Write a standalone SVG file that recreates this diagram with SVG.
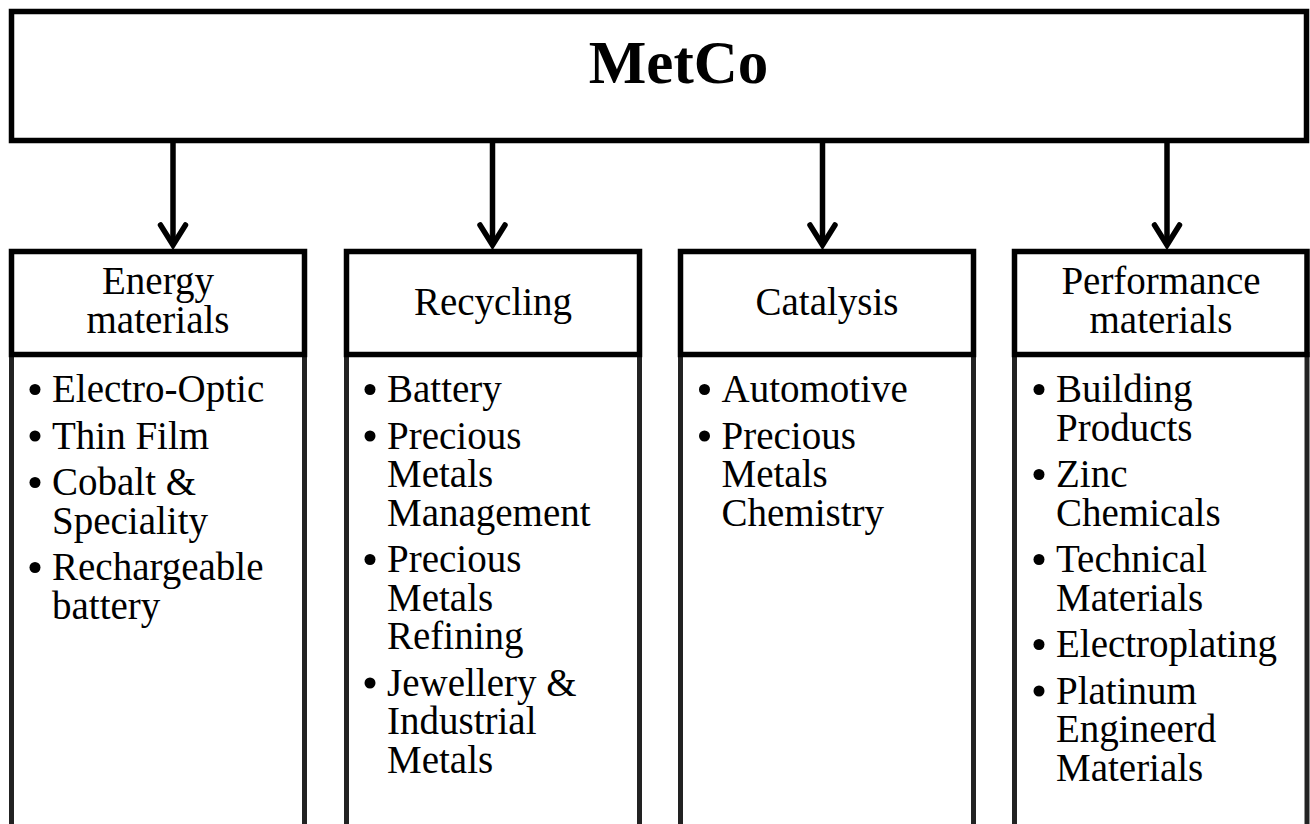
<svg xmlns="http://www.w3.org/2000/svg" width="1310" height="824" viewBox="0 0 1310 824">
  <style>
    .frame { fill: #ffffff; stroke: #000000; stroke-width: 5.5; }
    .list { fill: #ffffff; stroke: #222222; stroke-width: 5; }
    .title { font-family: "Liberation Serif", "Times New Roman", serif; font-weight: bold; font-size: 61px; fill: #000000; }
    .head { font-family: "Liberation Serif", "Times New Roman", serif; font-size: 39px; fill: #000000; text-anchor: middle; }
    .item { font-family: "Liberation Serif", "Times New Roman", serif; font-size: 39px; fill: #000000; }
    .dot { fill: #000000; }
    .wire { fill: none; stroke: #000000; stroke-width: 5.5; }
  </style>
  <defs>
    <marker id="vhead" markerUnits="userSpaceOnUse" viewBox="-26 -16 30 32" refX="0" refY="0" markerWidth="30" markerHeight="32" orient="auto" overflow="visible">
      <path d="M -20 -12.5 L 0 0 L -20 12.5" fill="none" stroke="#000000" stroke-width="5.5" stroke-linecap="round" stroke-linejoin="miter"/>
    </marker>
  </defs>

  <rect width="1310" height="824" fill="#ffffff"/>

  <!-- connectors from the company box down to each division -->
  <g id="connectors">
    <path class="wire" d="M 173 141 V 245" marker-end="url(#vhead)"/>
    <path class="wire" d="M 492.5 141 V 245" marker-end="url(#vhead)"/>
    <path class="wire" d="M 822.5 141 V 245" marker-end="url(#vhead)"/>
    <path class="wire" d="M 1167 141 V 245" marker-end="url(#vhead)"/>
  </g>

  <!-- company -->
  <g id="metco">
    <rect class="frame" x="11.5" y="11.5" width="1295" height="129"/>
    <text class="title" x="678.5" y="83" text-anchor="middle">MetCo</text>
  </g>

  <!-- division: energy materials -->
  <g id="energy-materials">
    <rect class="list" x="11.5" y="354.5" width="293" height="490"/>
    <rect class="frame" x="11.5" y="251.5" width="293" height="103"/>
    <text class="head"><tspan x="158" y="294">Energy</tspan><tspan x="158" y="333">materials</tspan></text>
    <g class="dot">
      <circle cx="35" cy="389.5" r="5.5"/>
      <circle cx="35" cy="436" r="5.5"/>
      <circle cx="35" cy="482.5" r="5.5"/>
      <circle cx="35" cy="567.5" r="5.5"/>
    </g>
    <text class="item">
      <tspan x="52" y="402">Electro-Optic</tspan>
      <tspan x="52" y="448.5">Thin Film</tspan>
      <tspan x="52" y="495">Cobalt &amp;</tspan>
      <tspan x="52" y="533.5">Speciality</tspan>
      <tspan x="52" y="580">Rechargeable</tspan>
      <tspan x="52" y="618.5">battery</tspan>
    </text>
  </g>

  <!-- division: recycling -->
  <g id="recycling">
    <rect class="list" x="346.5" y="354.5" width="293" height="490"/>
    <rect class="frame" x="346.5" y="251.5" width="293" height="103"/>
    <text class="head" x="493" y="315">Recycling</text>
    <g class="dot">
      <circle cx="370" cy="389.5" r="5.5"/>
      <circle cx="370" cy="436" r="5.5"/>
      <circle cx="370" cy="559.5" r="5.5"/>
      <circle cx="370" cy="683" r="5.5"/>
    </g>
    <text class="item">
      <tspan x="387" y="402">Battery</tspan>
      <tspan x="387" y="448.5">Precious</tspan>
      <tspan x="387" y="487">Metals</tspan>
      <tspan x="387" y="525.5">Management</tspan>
      <tspan x="387" y="572">Precious</tspan>
      <tspan x="387" y="610.5">Metals</tspan>
      <tspan x="387" y="649">Refining</tspan>
      <tspan x="387" y="695.5">Jewellery &amp;</tspan>
      <tspan x="387" y="734">Industrial</tspan>
      <tspan x="387" y="772.5">Metals</tspan>
    </text>
  </g>

  <!-- division: catalysis -->
  <g id="catalysis">
    <rect class="list" x="680.5" y="354.5" width="293" height="490"/>
    <rect class="frame" x="680.5" y="251.5" width="293" height="103"/>
    <text class="head" x="827" y="315">Catalysis</text>
    <g class="dot">
      <circle cx="704.5" cy="389.5" r="5.5"/>
      <circle cx="704.5" cy="436" r="5.5"/>
    </g>
    <text class="item">
      <tspan x="721.5" y="402">Automotive</tspan>
      <tspan x="721.5" y="448.5">Precious</tspan>
      <tspan x="721.5" y="487">Metals</tspan>
      <tspan x="721.5" y="525.5">Chemistry</tspan>
    </text>
  </g>

  <!-- division: performance materials -->
  <g id="performance-materials">
    <rect class="list" x="1014.5" y="354.5" width="292.5" height="490"/>
    <rect class="frame" x="1014.5" y="251.5" width="292.5" height="103"/>
    <text class="head"><tspan x="1161" y="294">Performance</tspan><tspan x="1161" y="333">materials</tspan></text>
    <g class="dot">
      <circle cx="1039" cy="389.5" r="5.5"/>
      <circle cx="1039" cy="474.5" r="5.5"/>
      <circle cx="1039" cy="559.5" r="5.5"/>
      <circle cx="1039" cy="644.5" r="5.5"/>
      <circle cx="1039" cy="691" r="5.5"/>
    </g>
    <text class="item">
      <tspan x="1056" y="402">Building</tspan>
      <tspan x="1056" y="440.5">Products</tspan>
      <tspan x="1056" y="487">Zinc</tspan>
      <tspan x="1056" y="525.5">Chemicals</tspan>
      <tspan x="1056" y="572">Technical</tspan>
      <tspan x="1056" y="610.5">Materials</tspan>
      <tspan x="1056" y="657">Electroplating</tspan>
      <tspan x="1056" y="703.5">Platinum</tspan>
      <tspan x="1056" y="742">Engineerd</tspan>
      <tspan x="1056" y="780.5">Materials</tspan>
    </text>
  </g>
</svg>
